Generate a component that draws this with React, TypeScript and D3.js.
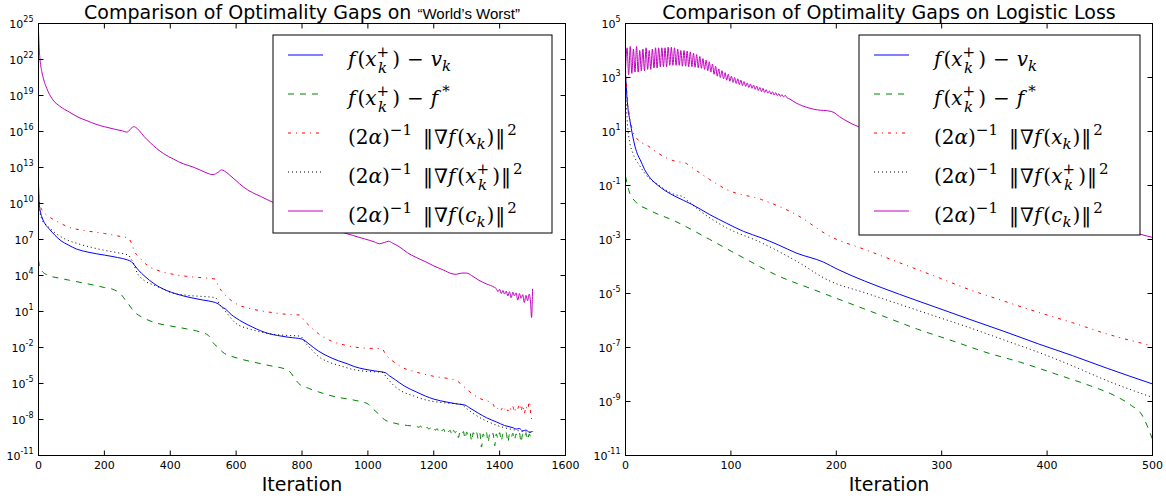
import React from 'react';
import * as d3 from 'd3';

type Pt = [number, number]; // [iteration, log10(value)]

// ---------- Panel 1: "World's Worst" ----------
const wwXTicks = [0, 200, 400, 600, 800, 1000, 1200, 1400, 1600];
const wwYExps = [25, 22, 19, 16, 13, 10, 7, 4, 1, -2, -5, -8, -11];

const wwBlue: Pt[] = [
  [0, 11.7], [1, 10.8], [2, 10.0], [5, 9.4], [10, 8.9], [20, 8.3], [32, 7.9], [50, 7.35], [68, 6.9], [90, 6.55],
  [116, 6.2], [150, 5.95], [200, 5.7], [240, 5.5], [270, 5.3], [282, 5.15], [293, 4.8], [305, 4.4], [320, 4.0],
  [337, 3.6], [360, 3.15], [389, 2.75], [420, 2.45], [463, 2.15], [500, 1.95], [530, 1.8], [545, 1.65], [556, 1.4],
  [568, 1.2], [585, 0.75], [600, 0.45], [621, 0.1], [650, -0.3], [674, -0.6], [700, -0.85], [726, -1.0], [760, -1.15],
  [800, -1.3], [812, -1.5], [821, -1.7], [850, -2.3], [884, -2.8], [910, -3.1], [937, -3.35], [960, -3.6], [989, -3.8],
  [1020, -3.95], [1053, -4.1], [1065, -4.35], [1084, -4.7], [1110, -5.2], [1147, -5.7], [1175, -6.05], [1200, -6.3],
  [1240, -6.55], [1270, -6.7], [1295, -6.8], [1310, -7.05], [1337, -7.5], [1360, -7.85], [1390, -8.2], [1415, -8.5],
  [1442, -8.7], [1450, -8.8], [1460, -8.75], [1470, -8.95], [1480, -8.88], [1490, -9.05], [1500, -9.0],
];
const wwGreen: Pt[] = [
  [0, 5.3], [3, 4.8], [10, 4.4], [30, 4.0], [60, 3.8], [95, 3.6], [150, 3.3], [200, 3.0], [230, 2.8], [253, 2.35],
  [265, 1.9], [275, 1.55], [290, 1.0], [320, 0.45], [350, 0.1], [400, -0.2], [450, -0.45], [490, -0.7], [516, -1.0],
  [530, -1.6], [545, -2.0], [560, -2.4], [600, -2.85], [650, -3.2], [700, -3.5], [758, -3.9], [775, -4.45], [790, -5.0],
  [820, -5.4], [850, -5.7], [900, -6.1], [960, -6.4], [1000, -6.7], [1015, -7.1], [1035, -7.6], [1050, -8.0],
  [1080, -8.3], [1120, -8.5], [1150, -8.6], [1155, -8.65], [1160, -8.55], [1165, -8.7], [1170, -8.6], [1175, -8.75],
  [1180, -8.65], [1185, -8.8], [1190, -8.7], [1195, -8.85], [1200, -8.7], [1205, -8.9], [1210, -8.75], [1215, -9.0],
  [1220, -8.8], [1225, -8.95], [1230, -8.8], [1235, -9.1], [1240, -8.85], [1245, -9.0], [1250, -8.9], [1255, -9.3],
  [1260, -8.9], [1265, -9.1], [1270, -8.95], [1275, -9.5], [1280, -9.0], [1285, -9.2], [1290, -9.0], [1295, -9.6],
  [1300, -9.05], [1305, -9.3], [1310, -9.05], [1315, -9.8], [1320, -9.1], [1325, -9.4], [1330, -9.1], [1335, -9.6],
  [1340, -9.15], [1345, -10.3], [1350, -9.2], [1355, -9.5], [1360, -9.1], [1365, -9.9], [1370, -9.2], [1375, -9.4],
  [1380, -9.15], [1385, -10.2], [1390, -9.2], [1395, -9.6], [1400, -9.1], [1405, -9.8], [1410, -9.2], [1415, -9.4],
  [1420, -9.1], [1425, -9.9], [1430, -9.2], [1435, -9.5], [1440, -9.15], [1445, -9.7], [1450, -9.2], [1455, -9.4],
  [1460, -9.1], [1465, -9.9], [1470, -9.2], [1475, -9.5], [1480, -9.15], [1485, -9.7], [1490, -9.2], [1495, -9.5],
  [1500, -9.3],
];
const wwRed: Pt[] = [
  [0, 10.8], [3, 10.0], [8, 9.6], [15, 9.3], [32, 8.9], [60, 8.45], [95, 8.0], [140, 7.75], [200, 7.5], [240, 7.3],
  [274, 7.1], [282, 6.7], [290, 6.1], [310, 5.4], [330, 4.85], [360, 4.45], [400, 4.15], [460, 3.9], [537, 3.7],
  [545, 3.2], [555, 2.75], [575, 2.15], [600, 1.65], [650, 1.2], [700, 0.95], [760, 0.75], [795, 0.7], [805, 0.3],
  [821, -0.15], [850, -0.85], [884, -1.4], [930, -1.8], [989, -2.05], [1042, -2.1], [1055, -2.6], [1074, -3.1],
  [1100, -3.6], [1147, -4.05], [1200, -4.4], [1268, -4.75], [1285, -5.1], [1305, -5.6], [1340, -6.25], [1380, -6.7],
  [1385, -7.0], [1390, -6.9], [1395, -7.1], [1400, -6.95], [1405, -7.2], [1410, -6.9], [1415, -7.15], [1420, -6.95],
  [1425, -7.3], [1430, -6.95], [1435, -7.2], [1440, -6.9], [1445, -7.4], [1450, -6.95], [1455, -7.1], [1460, -6.7],
  [1465, -7.3], [1470, -6.8], [1475, -7.5], [1480, -6.9], [1485, -7.2], [1490, -6.5], [1495, -7.6], [1500, -8.35],
];
const wwBlack: Pt[] = [
  [0, 10.5], [2, 9.8], [5, 9.2], [10, 8.7], [20, 8.3], [32, 8.0], [53, 7.5], [80, 7.05], [120, 6.65], [160, 6.35],
  [200, 6.1], [240, 5.9], [272, 5.7], [285, 5.2], [300, 4.2], [320, 3.6], [350, 3.2], [380, 2.85], [400, 2.6],
  [450, 2.35], [500, 2.25], [537, 2.15], [550, 1.6], [565, 1.1], [600, 0.0], [640, -0.45], [700, -0.85], [760, -1.0],
  [795, -1.05], [810, -1.6], [830, -2.2], [850, -2.75], [880, -3.2], [920, -3.55], [950, -3.8], [1000, -4.0],
  [1042, -4.05], [1060, -4.6], [1080, -5.2], [1100, -5.6], [1140, -6.05], [1180, -6.4], [1230, -6.6], [1284, -6.75],
  [1300, -7.1], [1320, -7.5], [1350, -8.0], [1379, -8.35], [1410, -8.65], [1442, -8.85], [1470, -9.0], [1500, -9.1],
];
const wwMagenta: Pt[] = [
  [0, 24.4], [2, 23.0], [5, 21.9], [10, 21.0], [16, 20.3], [25, 19.6], [42, 18.7], [65, 18.1], [95, 17.6], [120, 17.2],
  [147, 16.9], [175, 16.6], [200, 16.4], [230, 16.2], [255, 16.05], [268, 15.95], [278, 16.15], [288, 16.4],
  [295, 16.35], [305, 16.1], [320, 15.6], [340, 15.05], [358, 14.6], [380, 14.15], [410, 13.7], [440, 13.3],
  [463, 13.1], [490, 12.8], [515, 12.5], [530, 12.4], [545, 12.6], [556, 12.8], [565, 12.7], [579, 12.4], [600, 11.9],
  [621, 11.4], [650, 10.9], [674, 10.6], [711, 10.1], [760, 9.4], [810, 8.7], [860, 8.1], [910, 7.7], [953, 7.35],
  [990, 7.05], [1020, 6.8], [1035, 6.65], [1050, 6.75], [1063, 6.85], [1075, 6.7], [1095, 6.4], [1120, 5.9],
  [1147, 5.5], [1175, 5.15], [1200, 4.8], [1230, 4.45], [1255, 4.15], [1268, 4.1], [1285, 4.2], [1300, 4.2],
  [1315, 4.0], [1337, 3.6], [1360, 3.3], [1385, 3.0], [1390, 2.9], [1395, 2.65], [1400, 2.85], [1405, 2.5],
  [1410, 2.75], [1415, 2.45], [1420, 2.7], [1425, 2.3], [1430, 2.65], [1435, 2.15], [1440, 2.6], [1445, 2.3],
  [1450, 2.55], [1455, 1.95], [1460, 2.5], [1465, 2.1], [1470, 2.4], [1475, 1.75], [1480, 2.35], [1485, 1.9],
  [1490, 2.45], [1494, 1.7], [1497, 0.5], [1500, 2.9],
];

// ---------- Panel 2: Logistic Loss ----------
const llXTicks = [0, 100, 200, 300, 400, 500];
const llYExps = [5, 3, 1, -1, -3, -5, -7, -9, -11];

const llBlue: Pt[] = [
  [0, 3.2], [1, 2.5], [2.5, 1.8], [4, 1.45], [7, 0.8], [9, 0.45], [12, 0.1], [14, -0.05], [18, -0.4], [22, -0.65],
  [30, -0.97], [38, -1.2], [47, -1.4], [55, -1.55], [63, -1.7], [80, -2.08], [96, -2.4], [112, -2.7], [129, -2.94],
  [145, -3.2], [162, -3.5], [188, -3.84], [201, -4.1], [227, -4.54], [260, -5.03], [293, -5.49], [326, -5.95],
  [359, -6.4], [392, -6.87], [424, -7.3], [457, -7.77], [500, -8.35],
];
const llGreen: Pt[] = [
  [0, -0.66], [4, -1.28], [9, -1.58], [22, -1.9], [47, -2.32], [80, -3.0], [112, -3.68], [145, -4.35], [178, -4.85],
  [211, -5.34], [244, -5.83], [277, -6.32], [310, -6.75], [342, -7.18], [375, -7.55], [408, -7.98], [441, -8.42],
  [464, -8.78], [480, -9.15], [490, -9.5], [495, -9.9], [498, -10.2], [500, -10.4],
];
const llRed: Pt[] = [
  [0, 3.3], [2.3, 2.05], [5.6, 1.2], [10.5, 0.75], [22, 0.45], [30, 0.22], [47, -0.1], [57, -0.17], [60, -0.25],
  [80, -0.78], [96, -1.15], [129, -1.52], [162, -2.08], [194, -2.88], [227, -3.37], [260, -3.86], [293, -4.35],
  [326, -4.85], [359, -5.28], [392, -5.7], [424, -6.08], [457, -6.5], [500, -6.94],
];
const llBlack: Pt[] = [
  [0, 2.6], [2, 1.2], [4, 0.6], [7, 0.2], [14, -0.3], [22, -0.72], [30, -0.95], [47, -1.34], [55, -1.42], [57, -1.5],
  [60, -1.6], [80, -2.2], [96, -2.57], [129, -3.12], [162, -3.8], [194, -4.54], [227, -4.97], [260, -5.4],
  [293, -5.83], [326, -6.26], [359, -6.72], [392, -7.18], [424, -7.68], [457, -8.23], [500, -8.85],
];
const llMagenta: Pt[] = [
  [0, 3.3], [1.5, 4.1], [3, 3.1], [4.5, 4.15], [6, 3.15], [7.5, 4.05], [9, 3.2], [10.5, 4.15], [12, 3.2], [13.5, 4.0],
  [15, 3.25], [16.5, 4.05], [18, 3.25], [19.5, 4.1], [21, 3.3], [22.5, 4.0], [24, 3.3], [25.5, 4.05], [27, 3.35],
  [28.5, 4.1], [30, 3.35], [31.5, 4.1], [33, 3.4], [34.5, 4.1], [36, 3.4], [37.5, 4.1], [39, 3.4], [40.5, 4.12],
  [42, 3.45], [43.5, 4.12], [45, 3.45], [46.5, 4.1], [48, 3.45], [49.5, 4.05], [51, 3.45], [52.5, 4.0], [54, 3.42],
  [55.5, 4.0], [57, 3.42], [58.5, 3.98], [60, 3.4], [61.5, 3.95], [63, 3.4], [64.5, 3.9], [66, 3.38], [67.5, 3.85],
  [69, 3.36], [70.5, 3.78], [72, 3.34], [73.5, 3.7], [75, 3.3], [76.5, 3.65], [78, 3.25], [79.5, 3.58], [81, 3.2],
  [82.5, 3.5], [84, 3.12], [85.5, 3.42], [87, 3.05], [88.5, 3.32], [90, 3.0], [91.5, 3.25], [93, 2.95], [94.5, 3.18],
  [96, 2.9], [97.5, 3.12], [99, 2.86], [100.5, 3.05], [102, 2.82], [103.5, 3.0], [105, 2.78], [106.5, 2.95],
  [108, 2.74], [109.5, 2.9], [111, 2.7], [112.5, 2.85], [114, 2.67], [115.5, 2.8], [117, 2.63], [118.5, 2.76],
  [120, 2.6], [121.5, 2.72], [123, 2.56], [124.5, 2.68], [126, 2.52], [127.5, 2.63], [129, 2.48], [130.5, 2.6],
  [132, 2.45], [133.5, 2.55], [135, 2.42], [136.5, 2.5], [138, 2.38], [139.5, 2.47], [141, 2.35], [142.5, 2.44],
  [144, 2.33], [145.5, 2.4], [147, 2.3], [148.5, 2.37], [150, 2.28], [151.5, 2.34], [153, 2.26], [156, 2.2],
  [162, 2.05], [168, 1.95], [175, 1.86], [182, 1.8], [188, 1.78], [193, 1.76], [198, 1.7], [203, 1.55], [208, 1.43],
  [214, 1.3], [221, 1.18], [260, 0.6], [320, -0.3], [400, -1.5], [450, -2.2], [488, -2.8], [500, -2.92],
];

// ---------- styles ----------
const seriesStyle = [
  { color: '#0000ff', dash: undefined as string | undefined },
  { color: '#008000', dash: '6,6' },
  { color: '#ff0000', dash: '3,5,1,5' },
  { color: '#000000', dash: '1,3' },
  { color: '#bf00bf', dash: undefined as string | undefined },
];

type Piece = { t: string; it?: boolean; sh?: number; sz?: number; dx?: number };
const SUP = -9, SUB = 5, SUBS = 7, SS = 15;
const xkPlus: Piece[] = [
  { t: 'x', it: true }, { t: '+', sh: SUP, sz: SS, dx: 0 }, { t: 'k', it: true, sh: SUBS, sz: SS, dx: -11 },
];
const pref: Piece[] = [
  { t: '(2' }, { t: '\u03b1', it: true }, { t: ')' }, { t: '\u22121', sh: SUP, sz: SS }, { t: '\u2016', dx: 11 },
  { t: '\u2207', dx: 1 }, { t: 'f', it: true }, { t: '(', dx: 2 },
];
const legendLabels: Piece[][] = [
  [{ t: 'f', it: true }, { t: '(', dx: 2 }, ...xkPlus, { t: ')', dx: 5 }, { t: '\u2212', dx: 7 }, { t: 'v', it: true, dx: 7 },
    { t: 'k', it: true, sh: SUB, sz: SS }],
  [{ t: 'f', it: true }, { t: '(', dx: 2 }, ...xkPlus, { t: ')', dx: 5 }, { t: '\u2212', dx: 7 }, { t: 'f', it: true, dx: 7 },
    { t: '*', sh: SUP, sz: SS, dx: 4 }],
  [...pref, { t: 'x', it: true }, { t: 'k', it: true, sh: SUB, sz: SS }, { t: ')', dx: 1 }, { t: '\u2016', dx: 1 },
    { t: '2', sh: SUP, sz: SS, dx: 2 }],
  [...pref, ...xkPlus, { t: ')', dx: 5 }, { t: '\u2016', dx: 1 }, { t: '2', sh: SUP, sz: SS, dx: 2 }],
  [...pref, { t: 'c', it: true }, { t: 'k', it: true, sh: SUB, sz: SS }, { t: ')', dx: 1 }, { t: '\u2016', dx: 1 },
    { t: '2', sh: SUP, sz: SS, dx: 2 }],
];

function MathLabel({ x, y, pieces }: { x: number; y: number; pieces: Piece[] }) {
  let cur = 0;
  return (
    <text x={x} y={y} fontFamily="'DejaVu Serif', 'Liberation Serif', serif" fontSize={20} fill="#000">
      {pieces.map((p, i) => {
        const sh = p.sh ?? 0;
        const dy = sh - cur;
        cur = sh;
        return (
          <tspan key={i} dy={dy || undefined} dx={p.dx} fontStyle={p.it ? 'italic' : undefined} fontSize={p.sz}>
            {p.t}
          </tspan>
        );
      })}
    </text>
  );
}

type PanelProps = {
  id: string;
  x0: number; x1: number; y0: number; y1: number;
  xMax: number; yMinExp: number; yMaxExp: number;
  xTicks: number[]; yExps: number[];
  series: Pt[][];
  title: React.ReactNode;
  lg: { x: number; y: number; w: number; h: number };
};

function Panel(p: PanelProps) {
  const x = d3.scaleLinear().domain([0, p.xMax]).range([p.x0, p.x1]);
  const y = d3.scaleLog().domain([Math.pow(10, p.yMinExp), Math.pow(10, p.yMaxExp)]).range([p.y1, p.y0]);
  const line = d3.line<Pt>().x(d => x(d[0])).y(d => y(Math.pow(10, d[1]))).curve(d3.curveMonotoneX);
  const tl = 5;
  const font = "'DejaVu Sans', sans-serif";
  return (
    <g>
      <defs>
        <clipPath id={p.id}>
          <rect x={p.x0} y={p.y0} width={p.x1 - p.x0} height={p.y1 - p.y0} />
        </clipPath>
      </defs>
      <g clipPath={`url(#${p.id})`}>
        {p.series.map((s, i) => (
          <path key={i} d={line(s) || ''} fill="none" stroke={seriesStyle[i].color} strokeWidth={1}
            strokeDasharray={seriesStyle[i].dash} />
        ))}
      </g>
      <rect x={p.x0} y={p.y0} width={p.x1 - p.x0} height={p.y1 - p.y0} fill="none" stroke="#000" strokeWidth={1} />
      {p.xTicks.map(t => (
        <g key={'x' + t}>
          <line x1={x(t)} x2={x(t)} y1={p.y1} y2={p.y1 - tl} stroke="#000" />
          <line x1={x(t)} x2={x(t)} y1={p.y0} y2={p.y0 + tl} stroke="#000" />
          <text x={x(t)} y={p.y1 + 13} textAnchor="middle" fontFamily={font} fontSize={11}>{t}</text>
        </g>
      ))}
      {p.yExps.map(e => {
        const yy = y(Math.pow(10, e));
        return (
          <g key={'y' + e}>
            <line x1={p.x0} x2={p.x0 + tl} y1={yy} y2={yy} stroke="#000" />
            <line x1={p.x1} x2={p.x1 - tl} y1={yy} y2={yy} stroke="#000" />
            <text x={p.x0 - 5} y={yy + 4} textAnchor="end" fontFamily={font} fontSize={11}>
              10<tspan dy={-6} fontSize={8}>{e}</tspan>
            </text>
          </g>
        );
      })}
      <text x={(p.x0 + p.x1) / 2} y={19} textAnchor="middle" fontFamily={font} fontSize={19}>{p.title}</text>
      <text x={(p.x0 + p.x1) / 2} y={491} textAnchor="middle" fontFamily={font} fontSize={19}>Iteration</text>
      <rect x={p.lg.x} y={p.lg.y} width={p.lg.w} height={p.lg.h} fill="#fff" stroke="#000" strokeWidth={1} />
      {legendLabels.map((lab, i) => {
        const sy = p.lg.y + 20 + i * 39;
        return (
          <g key={'lg' + i}>
            <line x1={p.lg.x + 15} x2={p.lg.x + 50} y1={sy} y2={sy} stroke={seriesStyle[i].color}
              strokeWidth={1} strokeDasharray={seriesStyle[i].dash} />
            <MathLabel x={p.lg.x + 75} y={sy + 11} pieces={lab} />
          </g>
        );
      })}
    </g>
  );
}

export default function App() {
  return (
    <svg width={1166} height={499} style={{ position: 'absolute', left: 0, top: 0, background: '#fff' }}>
      <rect x={0} y={0} width={1166} height={499} fill="#fff" />
      <Panel id="clipww" x0={38.5} x1={565.5} y0={23.5} y1={455.5} xMax={1600} yMinExp={-11} yMaxExp={25}
        xTicks={wwXTicks} yExps={wwYExps} series={[wwBlue, wwGreen, wwRed, wwBlack, wwMagenta]}
        title={<>Comparison of Optimality Gaps on <tspan fontSize={15} fontFamily="'Liberation Sans', sans-serif">{'\u201cWorld\u2019s Worst\u201d'}</tspan></>}
        lg={{ x: 273, y: 35, w: 279, h: 198 }} />
      <Panel id="clipll" x0={625.5} x1={1152.5} y0={23.5} y1={455.5} xMax={500} yMinExp={-11} yMaxExp={5}
        xTicks={llXTicks} yExps={llYExps} series={[llBlue, llGreen, llRed, llBlack, llMagenta]}
        title={'Comparison of Optimality Gaps on Logistic Loss'}
        lg={{ x: 859, y: 35, w: 281, h: 200 }} />
    </svg>
  );
}
